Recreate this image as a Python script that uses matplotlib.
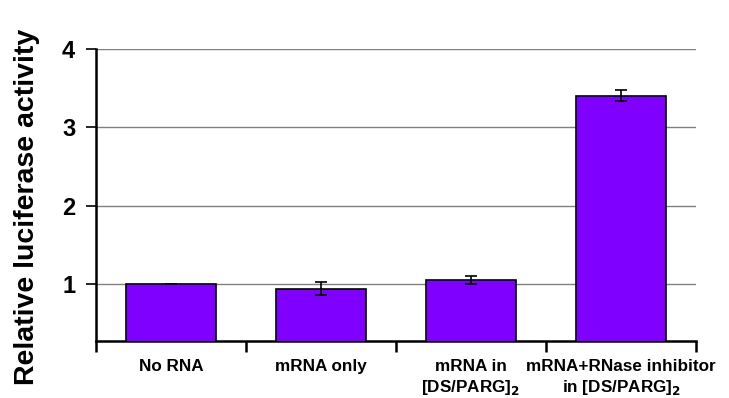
import matplotlib.pyplot as plt
import numpy as np

plt.rcParams['font.family'] = ['Liberation Sans', 'DejaVu Sans']

conditions = ['No RNA', 'mRNA only', 'mRNA in\n[DS/PARG]$_\\mathbf{2}$',
              'mRNA+RNase inhibitor\nin [DS/PARG]$_\\mathbf{2}$']
activity = [1.0, 0.94, 1.05, 3.40]
errors = [0.005, 0.08, 0.05, 0.07]

fig = plt.figure(figsize=(7.29, 3.98), dpi=100)
ax = fig.add_axes([0.1317, 0.143, 0.823, 0.734])

x = np.arange(len(conditions))
ax.bar(x, activity, width=0.6, color='#7f00ff', edgecolor='black',
       linewidth=1.2, zorder=3)
ax.errorbar(x, activity, yerr=errors, fmt='none', ecolor='black',
            elinewidth=1.2, capsize=4, capthick=1.2, zorder=4)

ax.set_xlim(-0.5, 3.5)
ax.set_ylim(0.27, 4)
ax.set_yticks([1, 2, 3, 4])
ax.set_yticklabels(['1', '2', '3', '4'], fontsize=17, fontweight='bold')
ax.yaxis.grid(True, color='#808080', linewidth=1.0, zorder=0)

# category boundaries carry the ticks, names sit under the bars
ax.set_xticks(np.arange(-0.5, 4.0, 1.0))
ax.set_xticklabels([])
ax.set_xticks(x, minor=True)
ax.set_xticklabels(conditions, minor=True, fontsize=12.3, fontweight='bold',
                   linespacing=1.3)
ax.tick_params(axis='x', which='minor', length=0, pad=13)
ax.tick_params(axis='x', which='major', length=8, width=1.8, direction='out')
ax.tick_params(axis='y', length=7, width=1.2, direction='out', pad=8)

ax.set_ylabel('Relative luciferase activity', fontsize=20.5, fontweight='bold')
ax.yaxis.set_label_coords(-0.093, 0.46)

for side in ('top', 'right'):
    ax.spines[side].set_visible(False)
for side in ('left', 'bottom'):
    ax.spines[side].set_linewidth(1.8)

fig.savefig('out.png', dpi=100)
